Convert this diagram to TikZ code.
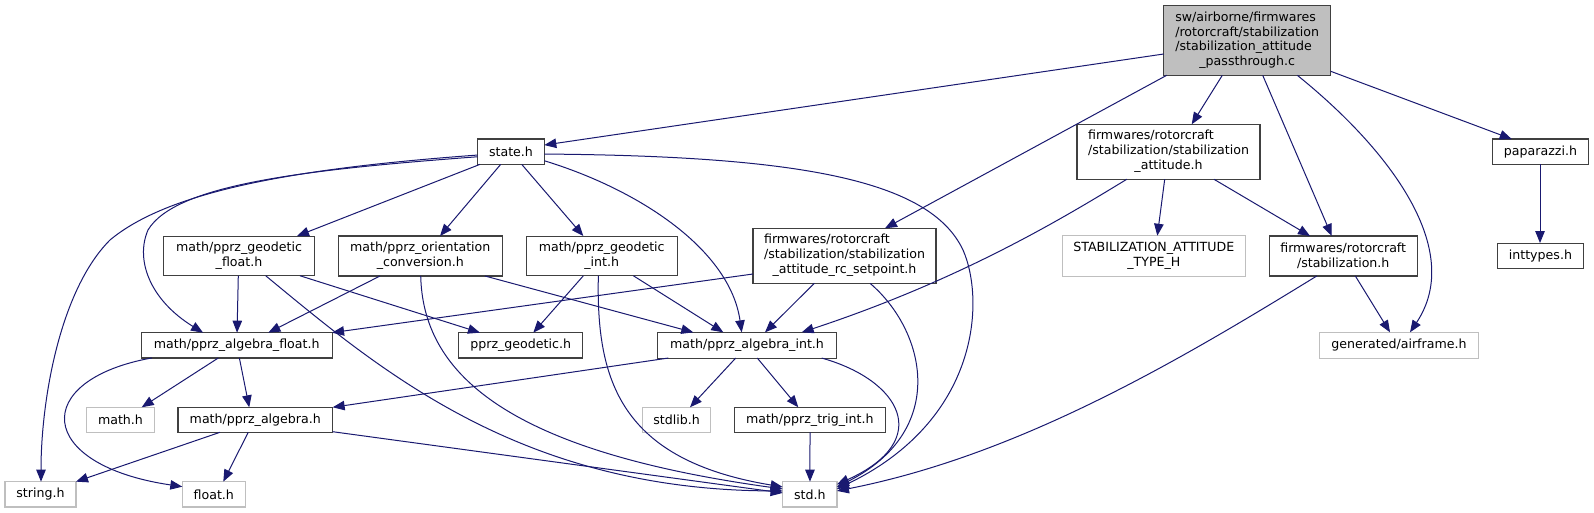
\documentclass[tikz,border=0pt]{standalone}
\usepackage{fontspec}
\setmainfont{DejaVu Sans}
\usetikzlibrary{arrows.meta,calc}
\definecolor{edgecol}{HTML}{191970}
\definecolor{lgray}{HTML}{BFBFBF}
\definecolor{bordercol}{HTML}{404040}
\begin{document}
\begin{tikzpicture}[x=1pt,y=-1pt,
  box/.style={draw=bordercol, line width=1.1pt, fill=white, inner sep=0pt, outer sep=0pt, align=center, text=black, font=\fontsize{12.6}{14.8}\selectfont},
  gbox/.style={box, draw=lgray},
  edge/.style={draw=edgecol, line width=1pt, -{Triangle[length=12pt,width=9.5pt]}}]
\useasboundingbox (0,0) rectangle (1594,513);
\fill[white] (0,0) rectangle (1594,513);
% nodes
\node[box, fill=lgray, minimum width=167pt, minimum height=69.6pt] (root) at (1247.2,40.5) {\begin{tabular}{@{}l@{}}sw/airborne/firmwares\\/rotorcraft/stabilization\\/stabilization\_attitude\\\multicolumn{1}{@{}c@{}}{\_passthrough.c}\end{tabular}};
\node[box, minimum width=66.6pt, minimum height=25.3pt] (state) at (511,151.7) {state.h};
\node[box, minimum width=183pt, minimum height=55pt] (stabatt) at (1168.5,151.8) {\begin{tabular}{@{}l@{}}firmwares/rotorcraft\\/stabilization/stabilization\\\multicolumn{1}{@{}c@{}}{\_attitude.h}\end{tabular}};
\node[box, minimum width=96.4pt, minimum height=25.3pt] (pap) at (1540.5,151.7) {paparazzi.h};
\node[box, minimum width=85.4pt, minimum height=25.3pt] (intt) at (1540.4,255.7) {inttypes.h};
\node[gbox, minimum width=183pt, minimum height=40.3pt] (stabtype) at (1153.8,255.9) {STABILIZATION\_ATTITUDE\\\_TYPE\_H};
\node[box, minimum width=148.3pt, minimum height=40pt] (stabh) at (1343.2,256) {firmwares/rotorcraft\\/stabilization.h};
\node[gbox, minimum width=159.4pt, minimum height=26pt] (airf) at (1399,345.3) {generated/airframe.h};
\node[box, minimum width=183pt, minimum height=55pt] (rcsp) at (844.5,255.8) {\begin{tabular}{@{}l@{}}firmwares/rotorcraft\\/stabilization/stabilization\\\multicolumn{1}{@{}c@{}}{\_attitude\_rc\_setpoint.h}\end{tabular}};
\node[box, minimum width=150.7pt, minimum height=39.7pt] (gint) at (601.7,255.9) {math/pprz\_geodetic\\\_int.h};
\node[box, minimum width=164pt, minimum height=40pt] (orient) at (420.3,256) {math/pprz\_orientation\\\_conversion.h};
\node[box, minimum width=150.6pt, minimum height=39.7pt] (gfloat) at (239,255.9) {math/pprz\_geodetic\\\_float.h};
\node[box, minimum width=190.7pt, minimum height=25.3pt] (afloat) at (236.7,345.3) {math/pprz\_algebra\_float.h};
\node[box, minimum width=124pt, minimum height=25.3pt] (pgeo) at (520.7,345.3) {pprz\_geodetic.h};
\node[box, minimum width=178.6pt, minimum height=25.7pt] (aint) at (747,345.2) {math/pprz\_algebra\_int.h};
\node[gbox, minimum width=68.4pt, minimum height=25pt] (mathh) at (120.5,419.8) {math.h};
\node[box, minimum width=154.7pt, minimum height=25pt] (alg) at (255.3,419.8) {math/pprz\_algebra.h};
\node[gbox, minimum width=68.4pt, minimum height=25pt] (stdlib) at (676.5,419.8) {stdlib.h};
\node[box, minimum width=151pt, minimum height=25pt] (trig) at (809.8,419.8) {math/pprz\_trig\_int.h};
\node[gbox, minimum width=71pt, minimum height=25.3pt] (string) at (40.5,494.3) {string.h};
\node[gbox, minimum width=63pt, minimum height=25.3pt] (float) at (213.8,494.3) {float.h};
\node[gbox, minimum width=54.3pt, minimum height=25.3pt] (std) at (809.8,494.3) {std.h};
% edges
\draw[edge] ($(root.north west)+(0,48.3)$) -- ($(state.north west)+(66.6,6)$);
\draw[edge] ($(root.north west)+(3,69.6)$) -- ($(rcsp.north west)+(132,0)$);
\draw[edge] ($(root.north west)+(58.6,69.6)$) -- ($(stabatt.north west)+(114.7,0)$);
\draw[edge] ($(root.north west)+(99,69.6)$) -- ($(stabh.north west)+(62.7,0)$);
\draw[edge] ($(root.north west)+(133.6,69.6)$) .. controls (1390,150) and (1465,250) .. ($(airf.north west)+(90.7,0)$);
\draw[edge] ($(root.north west)+(167,65.6)$) -- ($(pap.north west)+(19.4,0)$);
\draw[edge] ($(pap.north west)+(47.7,25.3)$) -- ($(intt.north west)+(42.3,0)$);
\draw[edge] ($(stabatt.north west)+(49.7,55)$) .. controls (1060,220) and (960,280) .. ($(aint.north west)+(144,0)$);
\draw[edge] ($(stabatt.north west)+(87.7,55)$) -- ($(stabtype.north west)+(95,0)$);
\draw[edge] ($(stabatt.north west)+(137,55)$) -- ($(stabh.north west)+(41,0)$);
\draw[edge] ($(stabh.north west)+(86.3,40)$) -- ($(airf.north west)+(70.7,0)$);
\draw[edge] ($(stabh.north west)+(47.7,40)$) .. controls (1180,360) and (1020,455) .. ($(std.north west)+(54.3,9.3)$);
\draw[edge] ($(rcsp.north west)+(0,45.7)$) -- ($(afloat.north west)+(190.7,0)$);
\draw[edge] ($(rcsp.north west)+(61.3,55)$) -- ($(aint.north west)+(107.3,0)$);
\draw[edge] ($(rcsp.north west)+(117,55)$) .. controls (925,330) and (950,430) .. ($(std.north west)+(54.3,5.3)$);
\draw[edge] ($(state.north west)+(0,16)$) .. controls (300,168) and (170,190) .. (110,240) .. controls (60,290) and (41,400) .. ($(string.north west)+(36,0)$);
\draw[edge] ($(state.north west)+(0,17.7)$) .. controls (300,170) and (175,185) .. (148,230) .. controls (135,260) and (150,300) .. ($(afloat.north west)+(61.7,0)$);
\draw[edge] ($(state.north west)+(2.3,25.3)$) -- ($(gfloat.north west)+(133.3,0)$);
\draw[edge] ($(state.north west)+(23,25.3)$) -- ($(orient.north west)+(101.7,0)$);
\draw[edge] ($(state.north west)+(44,25.3)$) -- ($(gint.north west)+(57,0)$);
\draw[edge] ($(state.north west)+(66.6,21.7)$) .. controls (640,190) and (730,250) .. ($(aint.north west)+(84,0)$);
\draw[edge] ($(state.north west)+(66.6,15)$) .. controls (800,156) and (930,180) .. (963,250) .. controls (985,300) and (980,420) .. ($(std.north west)+(54.3,7.3)$);
\draw[edge] ($(gfloat.north west)+(74.6,39.7)$) -- ($(afloat.north west)+(95.7,0)$);
\draw[edge] ($(gfloat.north west)+(102,39.7)$) .. controls (380,370) and (520,490) .. ($(std.north west)+(0,9.3)$);
\draw[edge] ($(gfloat.north west)+(136.3,39.7)$) -- ($(pgeo.north west)+(21.3,0)$);
\draw[edge] ($(orient.north west)+(41.7,40)$) -- ($(afloat.north west)+(127,0)$);
\draw[edge] ($(orient.north west)+(82.4,40)$) .. controls (423,370) and (500,450) .. ($(std.north west)+(0,7.3)$);
\draw[edge] ($(orient.north west)+(146.7,40)$) -- ($(aint.north west)+(35.6,0)$);
\draw[edge] ($(gint.north west)+(57,39.7)$) -- ($(pgeo.north west)+(74.6,0)$);
\draw[edge] ($(gint.north west)+(72,39.7)$) .. controls (596,380) and (620,460) .. ($(std.north west)+(0,5.3)$);
\draw[edge] ($(gint.north west)+(107,39.7)$) -- ($(aint.north west)+(65.6,0)$);
\draw[edge] ($(afloat.north west)+(77,25.3)$) -- ($(mathh.north west)+(55.4,0)$);
\draw[edge] ($(afloat.north west)+(98,25.3)$) -- ($(alg.north west)+(71.3,0)$);
\draw[edge] ($(afloat.north west)+(10.4,25.3)$) .. controls (30,380) and (35,465) .. ($(float.north west)+(0,5)$);
\draw[edge] ($(alg.north west)+(42,25)$) -- ($(string.north west)+(71,0)$);
\draw[edge] ($(alg.north west)+(70.3,25)$) -- ($(float.north west)+(41,0)$);
\draw[edge] ($(alg.north west)+(154.7,24.4)$) -- ($(std.north west)+(0,11.3)$);
\draw[edge] ($(aint.north west)+(10.6,25.7)$) -- ($(alg.north west)+(154.7,0)$);
\draw[edge] ($(aint.north west)+(78,25.7)$) -- ($(stdlib.north west)+(47.7,0)$);
\draw[edge] ($(aint.north west)+(99.6,25.7)$) -- ($(trig.north west)+(64,0)$);
\draw[edge] ($(aint.north west)+(164,25.7)$) .. controls (900,380) and (935,440) .. ($(std.north west)+(54.3,2.8)$);
\draw[edge] ($(trig.north west)+(75.7,25)$) -- ($(std.north west)+(27.3,0)$);
\end{tikzpicture}
\end{document}
